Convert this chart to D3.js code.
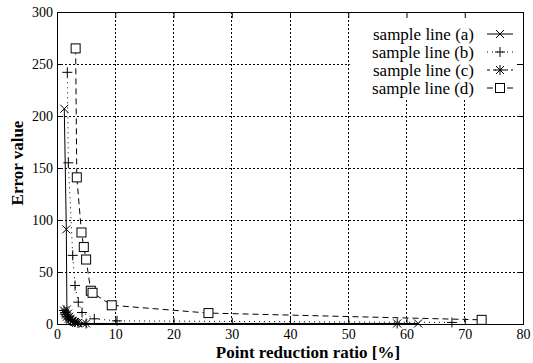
<!DOCTYPE html>
<html>
<head>
<meta charset="utf-8">
<script src="https://cdn.jsdelivr.net/npm/d3@7"></script>
<style>
  body { margin: 0; background: #fff; }
</style>
</head>
<body>
<div id="chart"></div>
<script>
// data
const seriesNames = ['sample line (a)', 'sample line (b)', 'sample line (c)', 'sample line (d)'];
const ratioA = [1.25, 1.6, 1.7, 1.9, 2.1, 2.3, 2.6, 2.9, 3.3, 4.5, 62];
const errorA = [207, 91, 14, 10, 7, 5, 3, 2, 1, 0.5, 0.5];
const ratioB = [1.77, 1.95, 2.7, 3.1, 3.65, 4.3, 6.4, 10.3, 67.8];
const errorB = [242, 155, 66, 37, 21, 11, 5, 3, 1.5];
const ratioC = [1.2, 1.4, 1.5, 1.7, 2.0, 2.3, 2.7, 3.1, 3.6, 5.0, 58.4];
const errorC = [13, 11, 9, 7, 5, 4, 3, 2, 1, 0.5, 0.5];
const ratioD = [3.2, 3.4, 4.2, 4.6, 5.0, 5.8, 6.1, 9.4, 26, 72.9];
const errorD = [265, 141, 88, 74, 62, 32, 30, 18, 10.5, 4];
const xTicks = [0, 10, 20, 30, 40, 50, 60, 70, 80];
const yTicks = [0, 50, 100, 150, 200, 250, 300];

const FONT = 'Liberation Serif';
const W = 533, H = 363;
const margin = { top: 12, right: 10, bottom: 39, left: 57 };
const width = W - margin.left - margin.right,
    height = H - margin.top - margin.bottom;

const svg = d3.select('#chart').append('svg').attr('width', W).attr('height', H);
const g = svg.append('g').attr('transform', `translate(${margin.left},${margin.top})`);

const x = d3.scaleLinear().domain([0, 80]).range([0, width]);
const y = d3.scaleLinear().domain([0, 300]).range([height, 0]);

// grid
const grid = g.append('g');
grid.selectAll(null).data(xTicks.slice(1, -1)).enter().append('line')
    .attr('x1', d => x(d)).attr('x2', d => x(d)).attr('y1', 0).attr('y2', height);
grid.selectAll(null).data(yTicks.slice(1, -1)).enter().append('line')
    .attr('x1', 0).attr('x2', width).attr('y1', d => y(d)).attr('y2', d => y(d));
grid.selectAll('line').attr('stroke', '#000').attr('stroke-width', 1)
    .attr('stroke-dasharray', '2,2').attr('shape-rendering', 'crispEdges');

// legend box (white, covers the grid)
const lgX = x(50) + 1.5, lgW = width - x(50) - 1.5, lgH = 87;
g.append('rect').attr('x', lgX).attr('y', 0).attr('width', lgW).attr('height', lgH).attr('fill', '#fff');

// axes with inward ticks
const fmt = d3.format('d');
g.append('g').attr('transform', `translate(0,${height})`)
    .call(d3.axisBottom(x).tickValues(xTicks).tickFormat(fmt).tickSizeInner(-6).tickSizeOuter(0).tickPadding(5));
g.append('g')
    .call(d3.axisLeft(y).tickValues(yTicks).tickFormat(fmt).tickSizeInner(-6).tickSizeOuter(0).tickPadding(4));
g.append('g').call(d3.axisTop(x).tickValues(xTicks).tickFormat('').tickSizeInner(-6).tickSizeOuter(0));
g.append('g').attr('transform', `translate(${width},0)`)
    .call(d3.axisRight(y).tickValues(yTicks).tickFormat('').tickSizeInner(-6).tickSizeOuter(0));
g.selectAll('.domain').remove();
g.selectAll('.tick line').attr('stroke', '#000');
g.selectAll('.tick text').attr('font-size', 14).attr('fill', '#000').attr('font-family', FONT);

// frame
g.append('rect').attr('width', width).attr('height', height)
    .attr('fill', 'none').attr('stroke', '#000').attr('stroke-width', 1).attr('shape-rendering', 'crispEdges');

// markers
function marker(sel, type) {
    if (type === 'x') {
        sel.append('path').attr('d', 'M-4,-4L4,4M-4,4L4,-4');
    } else if (type === 'plus') {
        sel.append('path').attr('d', 'M-5,0L5,0M0,-5L0,5');
    } else if (type === 'star') {
        sel.append('path').attr('d', 'M-5,0L5,0M0,-5L0,5M-4,-4L4,4M-4,4L4,-4');
    } else {
        sel.append('rect').attr('x', -4.5).attr('y', -4.5).attr('width', 9).attr('height', 9).attr('fill', '#fff');
    }
    sel.selectAll('path, rect').attr('stroke', '#000').attr('stroke-width', 1);
}

const series = [
    { name: seriesNames[0], xs: ratioA, ys: errorA, dash: null, mk: 'x' },
    { name: seriesNames[1], xs: ratioB, ys: errorB, dash: '1,4', mk: 'plus' },
    { name: seriesNames[2], xs: ratioC, ys: errorC, dash: '3,3', mk: 'star' },
    { name: seriesNames[3], xs: ratioD, ys: errorD, dash: '6,4', mk: 'sq' }
];

const line = d3.line().x(d => x(d[0])).y(d => y(d[1]));
const plot = g.append('g');
series.forEach(s => {
    const pts = s.xs.map((v, i) => [v, s.ys[i]]);
    plot.append('path').datum(pts).attr('d', line)
        .attr('fill', 'none').attr('stroke', '#000').attr('stroke-width', 1)
        .attr('stroke-dasharray', s.dash);
    plot.selectAll(null).data(pts).enter().append('g')
        .attr('transform', d => `translate(${x(d[0])},${y(d[1])})`)
        .each(function () { marker(d3.select(this), s.mk); });
});

// legend
const lg = g.append('g');
series.forEach((s, i) => {
    const ry = 22 + i * 18;
    lg.append('text').attr('x', 417).attr('y', ry).attr('dy', '0.35em')
        .attr('text-anchor', 'end').attr('font-size', 17).attr('font-family', FONT).text(s.name);
    lg.append('line').attr('x1', 430).attr('x2', 456).attr('y1', ry).attr('y2', ry)
        .attr('stroke', '#000').attr('stroke-dasharray', s.dash);
    const m = lg.append('g').attr('transform', `translate(443,${ry})`);
    marker(m, s.mk);
});

// axis titles
svg.append('text').attr('x', 308).attr('y', 358).attr('text-anchor', 'middle').attr('font-family', FONT)
    .attr('font-size', 17).attr('font-weight', 'bold').text('Point reduction ratio [%]');
svg.append('text').attr('transform', 'translate(23,163) rotate(-90)').attr('text-anchor', 'middle')
    .attr('font-family', FONT).attr('font-size', 17).attr('font-weight', 'bold').text('Error value');
</script>
</body>
</html>
